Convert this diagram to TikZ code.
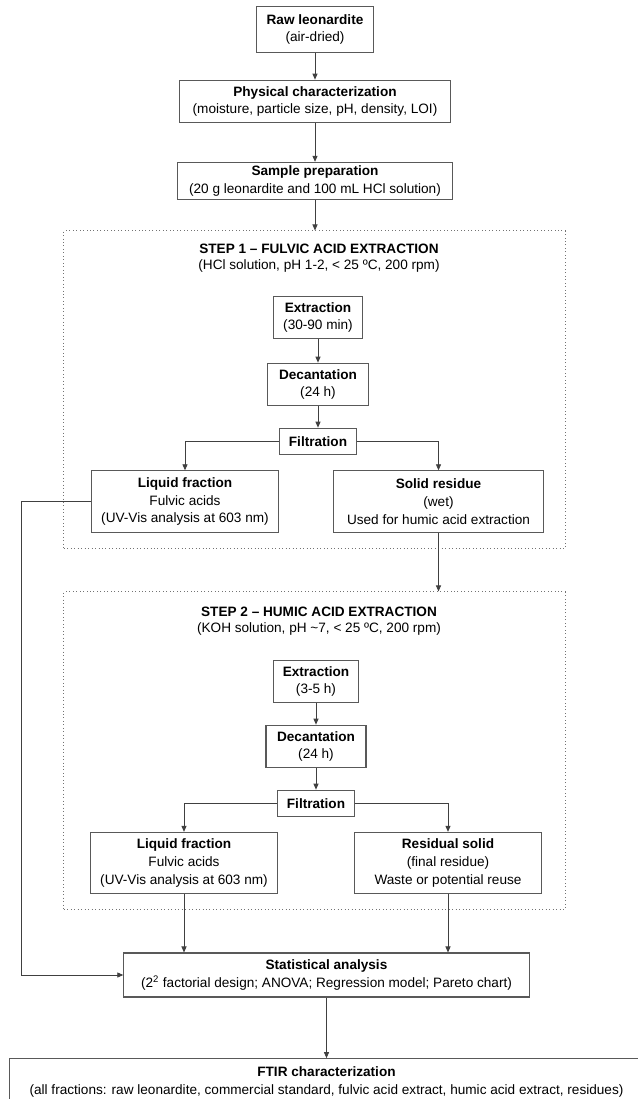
\documentclass[tikz,border=0pt]{standalone}
\usepackage{fontspec}
\setmainfont{Liberation Sans}
\usetikzlibrary{arrows.meta,positioning,calc}
\tikzset{process box/.style={draw=black!65, line width=0.8pt, fill=white, align=center, text=black,
		inner sep=1pt, font=\fontsize{10.2}{13.3}\selectfont}}
\tikzset{step frame/.style={draw=black!55, dotted, line width=0.6pt, inner sep=0pt}}
\tikzset{step title/.style={align=center, inner sep=0pt, text=black, font=\fontsize{10.2}{12}\selectfont}}
\definecolor{lineColor}{HTML}{404040}

\begin{document}
\begin{tikzpicture}[x=0.75pt, y=-0.75pt, ->, >={Triangle[length=4.5pt,width=3.8pt]},
					semithick, color=lineColor]
					\useasboundingbox (0,0) rectangle (637,1099);
					% frames of the two steps
					\node[step frame, minimum width=376pt, minimum height=238pt] at (314.5,389.5) (s_1) {};
					\node[step frame, minimum width=376pt, minimum height=238pt] at (314.5,750.5) (s_2) {};
					% top
					\node[process box, minimum width=88pt, minimum height=34pt] at (315,29.5) (raw) {\textbf{Raw leonardite}\\(air-dried)};
					\node[process box, minimum width=203pt, minimum height=32pt] at (315,101.5) (phys) {\textbf{Physical characterization}\\(moisture, particle size, pH, density, LOI)};
					\node[process box, minimum width=206pt, minimum height=28pt] at (315,181) (prep) {\textbf{Sample preparation}\\(20 g leonardite and 100 mL HCl solution)};
					% step 1
					\node[step title] at (319,258) (t_1) {\textbf{STEP 1 -- FULVIC ACID EXTRACTION}\\(HCl solution, pH 1-2, < 25 ºC, 200 rpm)};
					\node[process box, minimum width=67pt, minimum height=32pt] at (318,317.5) (ext_1) {\textbf{Extraction}\\(30-90 min)};
					\node[process box, minimum width=76pt, minimum height=32pt] at (318,384.5) (dec_1) {\textbf{Decantation}\\(24 h)};
					\node[process box, minimum width=58pt, minimum height=20pt] at (318,441.5) (fil_1) {\textbf{Filtration}};
					\node[process box, minimum width=140pt, minimum height=46pt] at (185,501.5) (liq_1) {\textbf{Liquid fraction}\\Fulvic acids\\(UV-Vis analysis at 603 nm)};
					\node[process box, minimum width=157pt, minimum height=46pt] at (438.5,501.5) (sol_1) {\textbf{Solid residue}\\(wet)\\Used for humic acid extraction};
					% step 2
					\node[step title] at (319,621) (t_2) {\textbf{STEP 2 -- HUMIC ACID EXTRACTION}\\(KOH solution, pH \textasciitilde7, < 25 ºC, 200 rpm)};
					\node[process box, minimum width=64pt, minimum height=32pt] at (316,681.5) (ext_2) {\textbf{Extraction}\\(3-5 h)};
					\node[process box, minimum width=75pt, minimum height=32pt] at (316,746.5) (dec_2) {\textbf{Decantation}\\(24 h)};
					\node[process box, minimum width=58pt, minimum height=20pt] at (316,803.5) (fil_2) {\textbf{Filtration}};
					\node[process box, minimum width=140pt, minimum height=46pt] at (184,863) (liq_2) {\textbf{Liquid fraction}\\Fulvic acids\\(UV-Vis analysis at 603 nm)};
					\node[process box, minimum width=140pt, minimum height=46pt] at (448,863) (res_2) {\textbf{Residual solid}\\(final residue)\\Waste or potential reuse};
					% bottom
					\node[process box, minimum width=304pt, minimum height=33pt] at (326.5,975) (stat) {\textbf{Statistical analysis}\\(2\textsuperscript{2} factorial design; ANOVA; Regression model; Pareto chart)};
					\node[process box, minimum width=476pt, minimum height=35pt] at (326.5,1082) (ftir) {\textbf{FTIR characterization}\\(all fractions: raw leonardite, commercial standard, fulvic acid extract, humic acid extract, residues)};
					\coordinate (back) at (21,501.5);
					% connectors
					\draw (raw) -- (phys);
					\draw (phys) -- (prep);
					\draw (prep.south) -- (prep.south |- s_1.north);
					\draw (ext_1) -- (dec_1);
					\draw (dec_1) -- (fil_1);
					\draw (fil_1.west) -| (liq_1.north);
					\draw (fil_1.east) -| (sol_1.north);
					\draw (sol_1.south) -- (sol_1.south |- s_2.north);
					\draw (ext_2) -- (dec_2);
					\draw (dec_2) -- (fil_2);
					\draw (fil_2.west) -| (liq_2.north);
					\draw (fil_2.east) -| (res_2.north);
					\draw (liq_2.south) -- (liq_2.south |- stat.north);
					\draw (res_2.south) -- (res_2.south |- stat.north);
					\draw[-] (liq_1.west) -- (back);
					\draw (back) |- (stat.west);
					\draw (stat) -- (ftir);
				\end{tikzpicture}
\end{document}
